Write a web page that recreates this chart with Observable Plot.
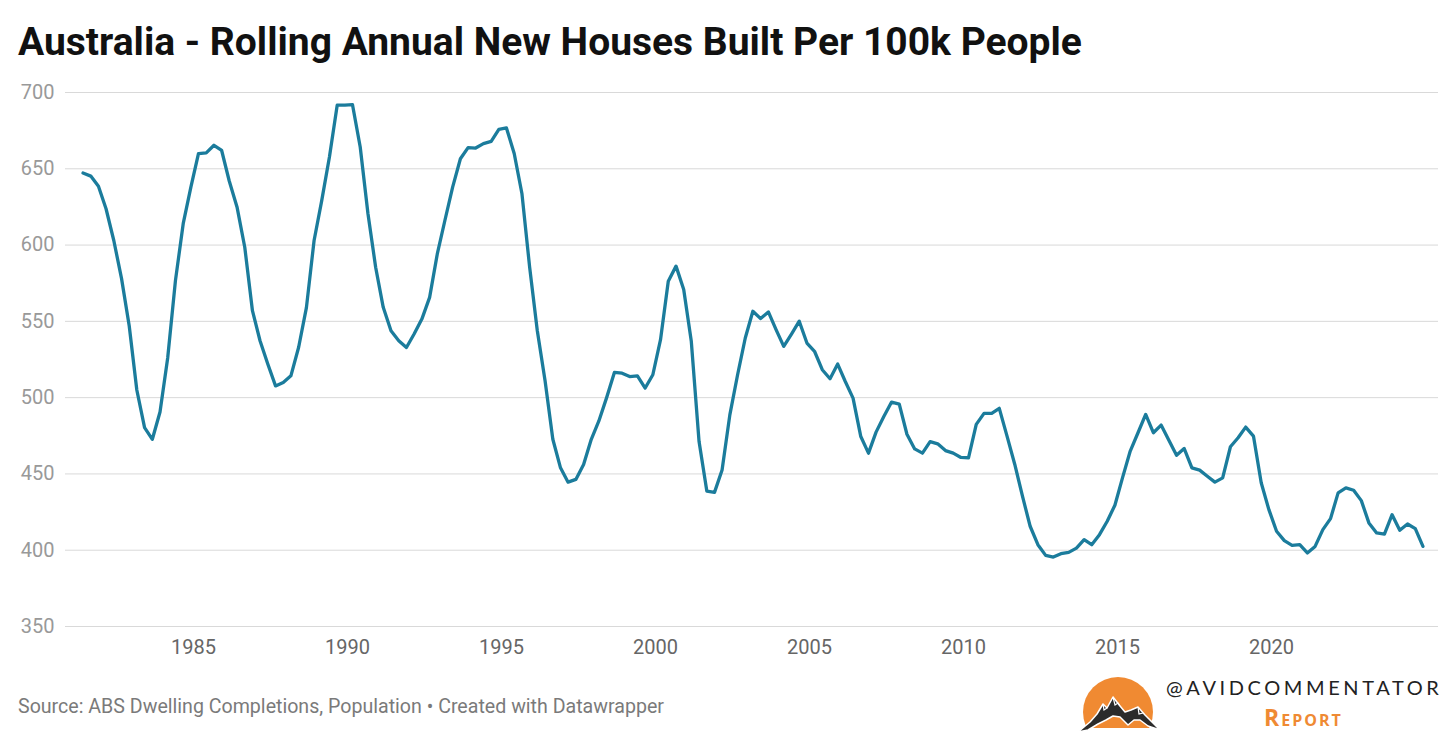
<!DOCTYPE html>
<html>
<head>
<meta charset="utf-8">
<script src="https://cdn.jsdelivr.net/npm/d3@7"></script>
<script src="https://cdn.jsdelivr.net/npm/@observablehq/plot@0.6"></script>
<style>
  html, body { margin: 0; padding: 0; background: #fff; }
  body { width: 1456px; height: 737px; position: relative; overflow: hidden; font-family: Roboto, "Noto Sans", sans-serif; }
  #title { position: absolute; left: 18px; top: 17px; font-size: 39px; font-weight: 700; color: #111; white-space: nowrap; letter-spacing: 0px; line-height: 50px; }
  #chart { position: absolute; left: 0; top: 70px; }
  #source { position: absolute; left: 18px; top: 694px; font-size: 19.6px; color: #7a7a7a; white-space: nowrap; line-height: 26px; }
  #logo { position: absolute; left: 1070px; top: 668px; }
  #brand { position: absolute; left: 1166px; top: 673px; font-family: Lato, "Open Sans", sans-serif; font-size: 20px; letter-spacing: 3.6px; color: #222; white-space: nowrap; line-height: 28px; }
  #report { position: absolute; left: 1264px; top: 702px; font-family: "Open Sans", Lato, sans-serif; font-size: 23px; font-weight: 700; letter-spacing: 2px; color: #ef8a33; white-space: nowrap; font-variant: small-caps; line-height: 30px; }
</style>
</head>
<body>
<div id="title">Australia - Rolling Annual New Houses Built Per 100k People</div>
<div id="chart"></div>
<div id="source">Source: ABS Dwelling Completions, Population • Created with Datawrapper</div>
<svg id="logo" width="100" height="69" viewBox="0 0 100 69">
  <defs><clipPath id="cut"><rect x="0" y="0" width="100" height="60"/></clipPath></defs>
  <circle cx="48" cy="44" r="35" fill="#f08a32" clip-path="url(#cut)"/>
  <polygon points="8,64 20,54 27,46 33,36 37,40 43,29 50,38 55,44 61,42 68,39 75,47 90,62 78,58 70,52 64,52 58,57 50,49 43,48 36,52 28,56 18,62" fill="#2b2b2b" stroke="#fff" stroke-width="1.5" stroke-linejoin="round"/>
  <polyline points="43,29 45,37 48,35 50,38" fill="none" stroke="#fff" stroke-width="1.2"/>
  <polyline points="33,36 34,42 37,40" fill="none" stroke="#fff" stroke-width="1.2"/>
  <polyline points="68,39 69,46 73,45" fill="none" stroke="#fff" stroke-width="1.2"/>
</svg>
<div id="brand">@AVIDCOMMENTATOR</div>
<div id="report">Report</div>
<script>
// Quarterly series, first quarter June 1981, one value per quarter
const seriesStart = [1981, 5]; // year, month index (June)
const values = [
  647.2, 645.2, 638.5, 623.8, 603, 578, 547, 505, 480.3, 472.7,
  490.6, 526, 576.7, 614, 638, 660, 660.4, 665.4, 662, 642,
  625, 598.6, 557, 537.3, 522, 507.7, 510, 514.3, 533, 559,
  603, 629, 657.7, 691.7, 691.7, 692.1, 664.3, 620.5, 585.5, 559.2,
  543.8, 537.3, 532.9, 541.7, 551.5, 565.7, 594.2, 616.1, 638, 656.6,
  663.9, 663.6, 666.5, 668, 675.9, 676.8, 660, 633.6, 585.5, 543.8,
  511, 472.7, 454, 444.6, 446.4, 456.2, 472.7, 484.7, 500, 516.5,
  516, 513.8, 514.3, 506.3, 515, 538, 576.3, 586.2, 570.9, 536.9,
  471.2, 438.8, 437.9, 452.6, 488.7, 515, 539.1, 556.6, 551.8, 556.2,
  544.6, 533.6, 541.7, 550.1, 535.8, 530.4, 518.3, 512.4, 522, 510.6,
  499.7, 474.5, 463.6, 477.4, 487.6, 497.1, 495.8, 476, 466.4, 463.6,
  471.2, 469.7, 465.3, 463.6, 460.8, 460.6, 482.5, 489.7, 489.7, 493,
  474.8, 456.2, 435.4, 415.7, 403.6, 396.6, 395.5, 397.7, 398.6, 401.4,
  406.9, 403.6, 410.2, 419, 429.5, 447.4, 465, 477, 489, 477,
  482, 472, 462.3, 466.7, 454, 452.5, 448.5, 444.6, 447.4, 467.8,
  473.7, 480.7, 474.8, 444.2, 426.6, 412.4, 406.3, 403.2, 403.6, 398.2,
  402.5, 413.5, 420.7, 437.6, 440.9, 439.3, 432.5, 417.9, 411.3, 410.6,
  423.3, 413.1, 417.2, 414.1, 402.5
];
const xTickYears = [1985, 1990, 1995, 2000, 2005, 2010, 2015, 2020];
const yTicks = [350, 400, 450, 500, 550, 600, 650, 700];
const xDomainYears = [1980.845, 2025.42];
const yDomain = [350, 700];

const start = new Date(Date.UTC(seriesStart[0], seriesStart[1], 1));
const data = values.map((v, i) => ({ date: d3.utcMonth.offset(start, 3 * i), value: v }));

const fracToDate = (f) => {
  const y = Math.floor(f);
  const a = Date.UTC(y, 0, 1), b = Date.UTC(y + 1, 0, 1);
  return new Date(a + (f - y) * (b - a));
};
const xTicks = xTickYears.map(y => new Date(Date.UTC(y, 0, 1)));

const chart = Plot.plot({
  width: 1456,
  height: 596,
  marginLeft: 65,
  marginRight: 18,
  marginTop: 22,
  marginBottom: 40,
  style: { fontFamily: "Roboto, sans-serif", fontSize: "20px", background: "transparent", overflow: "visible" },
  x: { type: "utc", domain: xDomainYears.map(fracToDate) },
  y: { domain: yDomain },
  marks: [
    Plot.gridY(yTicks, { stroke: "#d9d9d9", strokeOpacity: 1, strokeWidth: 1 }),
    Plot.axisY({ ticks: yTicks, tickSize: 0, tickPadding: 11, fill: "#999", fontSize: 20, label: null }),
    Plot.axisX({ ticks: xTicks, tickSize: 0, tickPadding: 13, tickFormat: d3.utcFormat("%Y"), fill: "#666", fontSize: 20, label: null }),
    Plot.line(data, { x: "date", y: "value", stroke: "#1b7c9c", strokeWidth: 3.3, strokeLinejoin: "round" })
  ]
});
document.getElementById("chart").appendChild(chart);
</script>
</body>
</html>
